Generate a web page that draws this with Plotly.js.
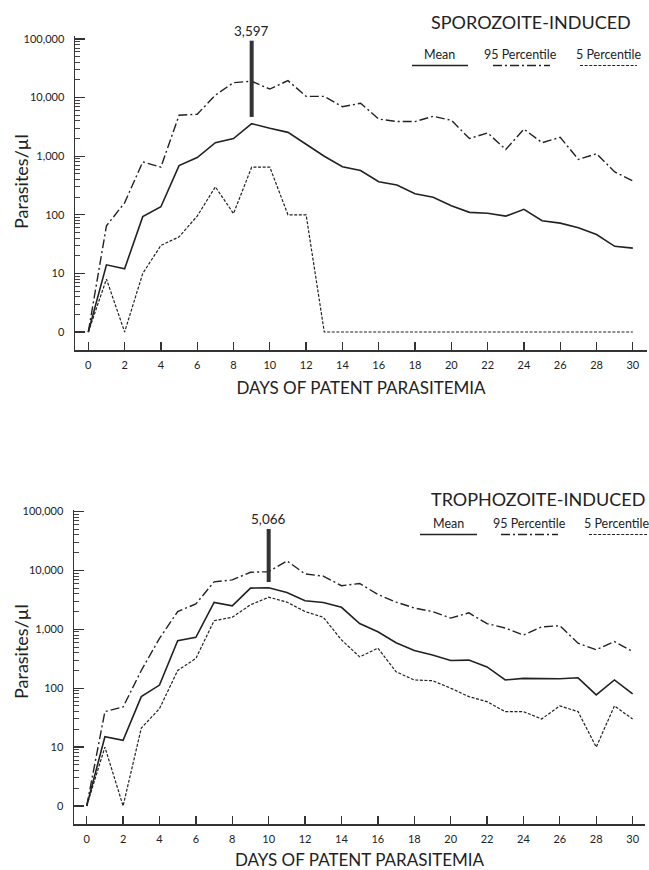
<!DOCTYPE html>
<html><head><meta charset="utf-8">
<script src="https://cdn.plot.ly/plotly-3.0.1.min.js"></script>
<style>html,body{margin:0;padding:0;background:#fff}#chart{width:649px;height:870px}</style>
</head><body><div id="chart"></div>
<script>
const days = [0,1,2,3,4,5,6,7,8,9,10,11,12,13,14,15,16,17,18,19,20,21,22,23,24,25,26,27,28,29,30];

const sporoMean = [0,14,12,93,137,690,950,1700,2000,3597,3000,2550,1600,1000,660,570,367,322,228,200,143,110,106,95,124,79,72,60,46,29,27];
const sporoP95  = [0,65,160,800,650,5000,5200,11000,18000,19000,14000,19500,10500,10500,7000,8000,4300,3900,3900,4800,4100,2000,2500,1300,2900,1700,2100,880,1100,540,380];
const sporoP5   = [0,8,0,10,30,42,95,300,105,650,650,100,100,0,0,0,0,0,0,0,0,0,0,0,0,0,0,0,0,0,0];

const trophoMean = [0,15,13,72,113,640,730,2850,2500,5000,5066,4200,3050,2850,2360,1250,910,590,435,365,295,300,230,138,147,147,145,150,77,138,80];
const trophoP95  = [0,40,48,200,700,2000,2700,6400,6900,9300,9500,14500,8700,8000,5500,6000,3900,2900,2300,2000,1550,1900,1250,1050,800,1100,1150,580,450,620,420];
const trophoP5   = [0,10,0,21,45,200,320,1400,1600,2600,3500,2900,2000,1600,660,340,480,190,138,134,100,72,59,40,40,30,50,40,10,50,30];

const peakDays = [9, 10];
const peakValues = [3597, 5066];
const panelTitles = ['SPOROZOITE-INDUCED', 'TROPHOZOITE-INDUCED'];
const seriesNames = ['Mean', '95 Percentile', '5 Percentile'];
const yTickVals = [0, 10, 100, 1000, 10000, 100000];
const yTickText = ['0', '10', '100', '1,000', '10,000', '100,000'];
const xTickVals = [0,2,4,6,8,10,12,14,16,18,20,22,24,26,28,30];

// axis shows "0" at the position of 1 on the log scale
const toAxis = v => (v === 0 ? 1 : v);

const W = 649, H = 870;
const px = x => x / W;
const py = y => 1 - y / H;

const ink = '#222';
const FONT = 'Lato, "Open Sans", sans-serif';
const styles = [
  {color: ink, width: 1.6, dash: 'solid'},
  {color: ink, width: 1.4, dash: '9px,3px,2px,3px'},
  {color: ink, width: 1.2, dash: '3px,1.6px'}
];

const minorVals = [];
for (let e = 0; e < 5; e++) for (let m = 2; m <= 9; m++) minorVals.push(m * Math.pow(10, e));

const panels = [
  {series: [sporoMean, sporoP95, sporoP5], xa: 'x', ya: 'y', barLo: 1.3, barHi: 26},
  {series: [trophoMean, trophoP95, trophoP5], xa: 'x2', ya: 'y2', barLo: 1.25, barHi: 10}
];

const traces = [];
panels.forEach((p, i) => {
  p.series.forEach((s, k) => {
    traces.push({
      x: days, y: s.map(toAxis), xaxis: p.xa, yaxis: p.ya,
      type: 'scatter', mode: 'lines', name: seriesNames[k],
      line: styles[k], showlegend: false, hoverinfo: 'x+y'
    });
  });
  traces.push({
    x: [peakDays[i], peakDays[i]],
    y: [peakValues[i] * p.barLo, peakValues[i] * p.barHi],
    xaxis: p.xa, yaxis: p.ya, type: 'scatter', mode: 'lines',
    line: {color: '#333', width: 4}, showlegend: false, hoverinfo: 'skip'
  });
});

function xAxis(domain, range, anchor) {
  return {
    domain, range, anchor, type: 'linear',
    tickmode: 'array', tickvals: xTickVals,
    ticks: 'inside', ticklen: 8, tickwidth: 1.3, tickcolor: '#333',
    showline: true, linecolor: '#333', linewidth: 1.5,
    showgrid: false, zeroline: false,
    tickfont: {family: FONT, size: 11, color: ink},
    ticklabelstandoff: 4,
    title: {text: 'DAYS OF PATENT PARASITEMIA', font: {family: FONT, size: 17, color: ink}, standoff: 12}
  };
}
function yAxis(domain, range, anchor) {
  return {
    domain, range, anchor, type: 'log',
    tickmode: 'array', tickvals: yTickVals.map(toAxis), ticktext: yTickText,
    ticks: 'inside', ticklen: 10, tickwidth: 1.3, tickcolor: '#333',
    minor: {tickmode: 'array', tickvals: minorVals, ticks: 'inside', ticklen: 5, tickwidth: 1, tickcolor: '#444', showgrid: false},
    showline: true, linecolor: '#333', linewidth: 1.5,
    showgrid: false, zeroline: false,
    tickfont: {family: FONT, size: 11, color: ink},
    ticklabelstandoff: 7
  };
}

const annotations = [];
const shapes = [];

const legendSpec = [
  {titleX: 531, titleY: 22, yT: 55, yL: 65.5, items: [[439.5, 412, 468], [520, 493, 550], [609, 580, 637]], yTitle: 182},
  {titleX: 537.5, titleY: 499, yT: 523, yL: 534.5, items: [[448.5, 420, 477], [529, 501, 558], [617, 589, 647]], yTitle: 652}
];
legendSpec.forEach((L, i) => {
  annotations.push({xref: 'paper', yref: 'paper', x: px(L.titleX), y: py(L.titleY), xanchor: 'center', yanchor: 'middle',
    text: panelTitles[i], showarrow: false, font: {family: FONT, size: 18, color: ink}});
  annotations.push({xref: 'paper', yref: 'paper', x: px(21), y: py(L.yTitle), xanchor: 'center', yanchor: 'middle',
    text: 'Parasites/µl', textangle: -90, showarrow: false, font: {family: FONT, size: 18, color: ink}});
  L.items.forEach((it, k) => {
    annotations.push({xref: 'paper', yref: 'paper', x: px(it[0]), y: py(L.yT), xanchor: 'center', yanchor: 'middle',
      text: seriesNames[k], showarrow: false, font: {family: FONT, size: 12.5, color: ink}});
    shapes.push({type: 'line', xref: 'paper', yref: 'paper', x0: px(it[1]), x1: px(it[2]), y0: py(L.yL), y1: py(L.yL),
      line: {color: styles[k].color, width: styles[k].width, dash: styles[k].dash}});
  });
  const p = panels[i];
  annotations.push({xref: p.xa, yref: p.ya, x: peakDays[i], y: Math.log10(peakValues[i] * p.barHi),
    xanchor: 'center', yanchor: 'bottom', yshift: 0, showarrow: false,
    text: peakValues[i].toLocaleString('en-US'), font: {family: FONT, size: 13.5, color: ink}});
});

const layout = {
  width: W, height: H,
  margin: {l: 0, r: 0, t: 0, b: 0},
  paper_bgcolor: '#fff', plot_bgcolor: '#fff',
  showlegend: false,
  xaxis: xAxis([px(75), px(647)], [-0.733, 30.78], 'y'),
  yaxis: yAxis([py(350), py(36)], [-0.307, 5.051], 'x'),
  xaxis2: xAxis([px(74), px(645)], [-0.698, 30.68], 'y2'),
  yaxis2: yAxis([py(824), py(509.5)], [-0.306, 5.034], 'x2'),
  annotations, shapes
};

Plotly.newPlot('chart', traces, layout, {staticPlot: true, displayModeBar: false});
</script>
</body></html>
